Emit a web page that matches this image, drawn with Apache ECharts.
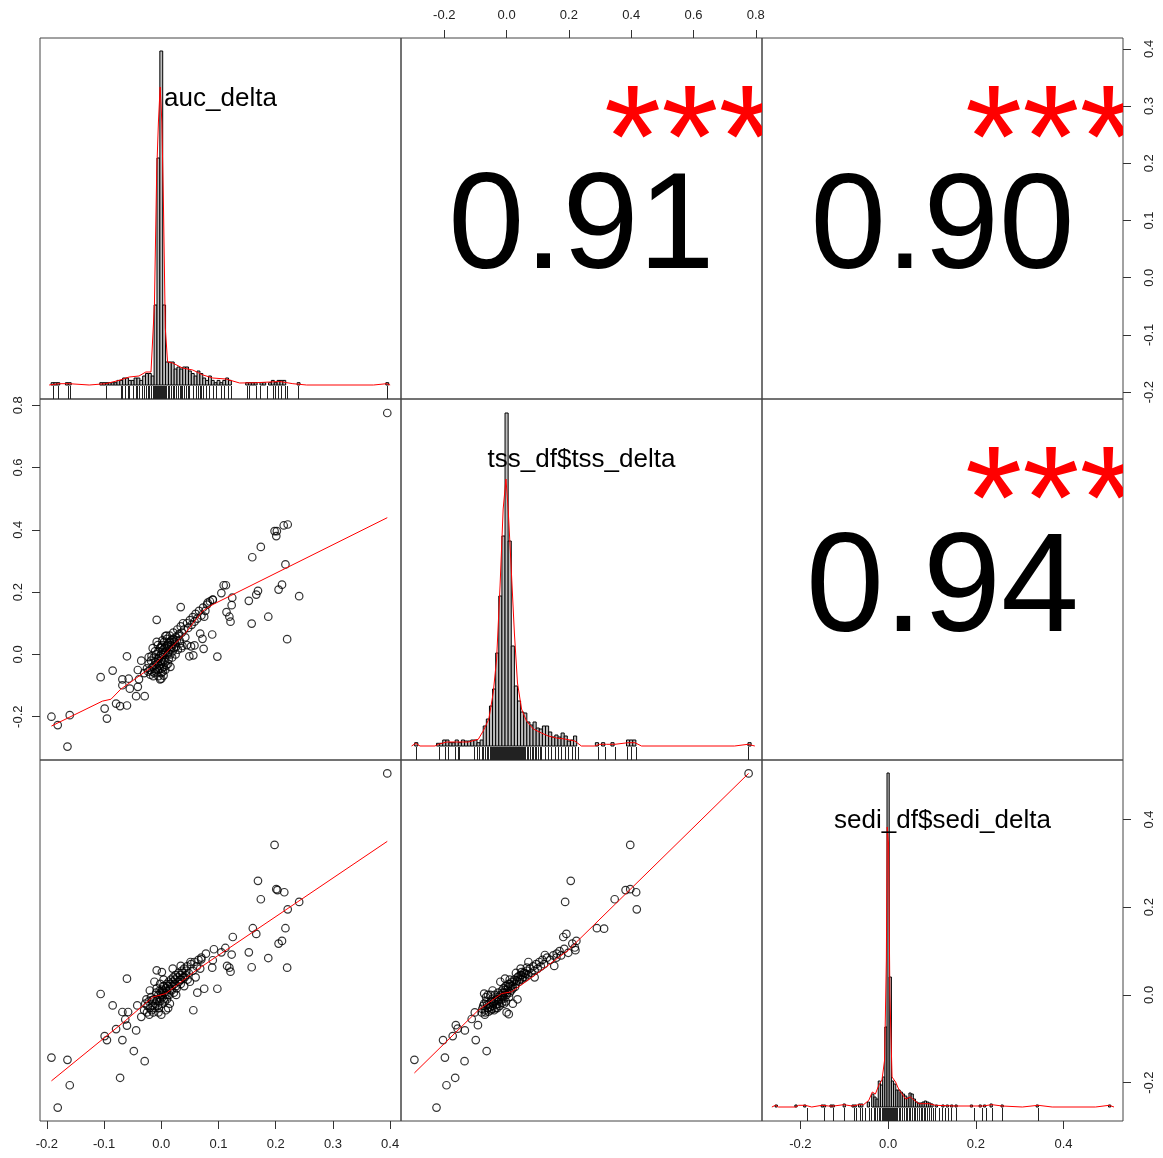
<!DOCTYPE html>
<html>
<head>
<meta charset="utf-8">
<script src="https://cdn.jsdelivr.net/npm/echarts@6/dist/echarts.min.js"></script>
<style>
html, body { margin: 0; padding: 0; background: #fff; }
#main { width: 1163px; height: 1158px; }
</style>
</head>
<body>
<div id="main"></div>
<script>
// variable names shown on the diagonal
var varNames = ['auc_delta', 'tss_df$tss_delta', 'sedi_df$sedi_delta'];

// axis domains (data range + 4%) and tick labels
var aucRange = [-0.212, 0.419];
var tssRange = [-0.339, 0.820];
var sediRange = [-0.2875, 0.5355];
var aucTicks = [-0.2, -0.1, 0.0, 0.1, 0.2, 0.3, 0.4];
var tssTicks = [-0.2, 0.0, 0.2, 0.4, 0.6, 0.8];
var sediTicks = [-0.2, 0.0, 0.2, 0.4];

// correlations (upper panels) and significance stars
var corrR = [0.91, 0.90, 0.94];
var corrStars = ['***', '***', '***'];

// histogram bins [bin centre, height] (relative density)
var aucBin = 0.005;
var aucHist = [[-0.19,2.3],[-0.185,2.3],[-0.18,2.3],[-0.165,2.3],[-0.16,2.3],[-0.105,2.3],[-0.1,2.3],[-0.095,2.3],[-0.09,2.3],[-0.085,2.3],[-0.08,2.3],
  [-0.075,4.6],[-0.07,4.6],[-0.065,7],[-0.06,7],[-0.055,4.6],[-0.05,4.6],[-0.045,7],[-0.04,7],[-0.035,4.6],[-0.03,9],[-0.025,11.5],[-0.02,11.5],[-0.015,9],
  [-0.01,80],[-0.005,227],[0,334],[0.005,80],[0.01,23],[0.015,23],[0.02,23],[0.025,16],[0.03,18],[0.035,16],[0.04,18],[0.045,18],[0.05,14],[0.055,11.5],
  [0.06,9],[0.065,14],[0.07,11.5],[0.075,7],[0.08,4.6],[0.085,9],[0.09,4.6],[0.095,2.3],[0.1,4.6],[0.105,2.3],[0.11,4.6],[0.115,7],[0.12,4.6],
  [0.15,2.3],[0.155,2.3],[0.16,2.3],[0.165,2.3],[0.175,2.3],[0.18,2.3],[0.19,2.3],[0.195,4.6],[0.2,2.3],[0.205,4.6],[0.21,4.6],[0.215,4.6],[0.24,2.3],[0.395,2.3]];
var tssBin = 0.01;
var tssHist = [[-0.29,3.3],[-0.22,2.7],[-0.21,2.7],[-0.2,6],[-0.19,6],[-0.18,3.3],[-0.17,3.3],[-0.16,6],[-0.15,3.3],[-0.14,6],[-0.13,5],[-0.12,5],[-0.11,6],[-0.1,6],
  [-0.09,3.3],[-0.08,6],[-0.07,20],[-0.06,27],[-0.05,40],[-0.04,57],[-0.03,93],[-0.02,150],[-0.01,210],[0,333],[0.01,205],[0.02,100],[0.03,60],[0.04,45],
  [0.05,34],[0.06,33],[0.07,24],[0.08,21],[0.09,24],[0.1,18],[0.11,17],[0.12,20],[0.13,20],[0.14,14],[0.15,9],[0.16,11],[0.17,9],[0.18,13],[0.19,10],
  [0.2,5],[0.21,6],[0.22,10],[0.29,3.3],[0.31,3.3],[0.34,3.3],[0.39,6],[0.4,6],[0.41,6],[0.78,3.3]];
var sediBin = 0.005;
var sediHist = [[-0.255,2],[-0.21,2],[-0.19,2],[-0.15,2],[-0.145,2],[-0.13,2],[-0.125,2],[-0.1,3],[-0.08,2],[-0.075,2],[-0.065,3],[-0.06,3],[-0.045,5],
  [-0.035,13],[-0.03,10],[-0.025,8],[-0.02,26],[-0.015,22],[-0.01,30],[-0.005,80],[0,334],[0.005,130],[0.01,26],[0.015,23],[0.02,17],[0.025,17],[0.03,15],
  [0.035,13],[0.04,11],[0.045,9],[0.05,14],[0.055,13],[0.06,8],[0.065,5],[0.07,4],[0.075,4],[0.08,5],[0.085,6],[0.09,5],[0.095,4],[0.1,3],[0.11,2],
  [0.125,2],[0.135,2],[0.145,2],[0.155,2],[0.19,2],[0.21,2],[0.22,2],[0.235,3],[0.26,2],[0.34,2],[0.505,2]];

// density curves [x, height]
var aucDens = [[-0.196,0],[-0.179,1.3],[-0.161,1.3],[-0.126,0],[-0.097,1.3],[-0.074,4.6],[-0.056,8],[-0.039,9],[-0.027,13],[-0.018,13],[-0.012,80],
  [-0.008,213],[-0.005,263],[-0.002,298],[0.001,263],[0.004,173],[0.007,57],[0.011,23],[0.02,22],[0.037,17],[0.055,15],[0.073,10],[0.09,7],[0.113,6],
  [0.137,2],[0.166,2.3],[0.207,3.5],[0.23,1.3],[0.254,0],[0.371,0],[0.394,1.3],[0.4,0]];
var tssDens = [[-0.305,0],[-0.292,2.7],[-0.278,0],[-0.23,0],[-0.219,1.7],[-0.192,4],[-0.16,4],[-0.123,4],[-0.091,6.7],[-0.075,15],[-0.057,27],[-0.043,53],
  [-0.032,87],[-0.021,160],[-0.011,237],[-0.002,267],[0.005,237],[0.014,183],[0.025,113],[0.035,63],[0.048,37],[0.064,25],[0.086,17],[0.112,13],[0.134,10],
  [0.16,8],[0.187,7],[0.219,5],[0.24,0],[0.283,0],[0.299,1.7],[0.321,1.7],[0.348,1.7],[0.39,3.3],[0.412,3.3],[0.433,0],[0.732,0],[0.775,1.7],[0.797,0]];
var sediDens = [[-0.265,0],[-0.257,1.7],[-0.25,0],[-0.212,0],[-0.204,1.7],[-0.189,1.7],[-0.174,0],[-0.151,1.7],[-0.136,1],[-0.124,1],[-0.101,2.3],[-0.082,1],
  [-0.067,2.3],[-0.056,2.3],[-0.044,6.7],[-0.036,15],[-0.029,13],[-0.021,22],[-0.014,27],[-0.008,47],[-0.004,147],[-0.002,280],[0.001,263],[0.004,113],
  [0.009,30],[0.017,25],[0.024,18],[0.032,13],[0.04,8],[0.051,10],[0.059,7],[0.07,3.3],[0.093,3.3],[0.108,1.7],[0.154,1],[0.192,1],[0.215,1],[0.237,2.3],
  [0.26,1],[0.306,0],[0.342,1.7],[0.374,0],[0.473,0],[0.504,1.7],[0.515,0]];

// rug values under each histogram
var aucRug = [-0.189,-0.18,-0.163,-0.16,-0.097,-0.071,-0.068,-0.063,-0.059,-0.056,-0.05,-0.045,-0.042,-0.039,-0.034,-0.03,-0.027,-0.024,-0.021,-0.018,
  -0.015,-0.014,-0.013,-0.012,-0.011,-0.01,-0.009,-0.008,-0.007,-0.006,-0.005,-0.004,-0.003,-0.002,-0.001,0,0.001,0.002,0.003,0.004,0.005,0.006,0.007,
  0.009,0.011,0.013,0.017,0.02,0.023,0.026,0.029,0.032,0.035,0.037,0.04,0.043,0.046,0.049,0.055,0.06,0.064,0.067,0.07,0.073,0.078,0.084,0.09,0.096,
  0.105,0.11,0.116,0.122,0.149,0.154,0.166,0.172,0.184,0.195,0.198,0.204,0.21,0.216,0.219,0.239,0.394];
var tssRug = [-0.292,-0.217,-0.198,-0.187,-0.166,-0.157,-0.153,-0.104,-0.096,-0.089,-0.08,-0.075,-0.07,-0.064,-0.059,-0.053,-0.05,-0.047,-0.044,-0.041,
  -0.038,-0.035,-0.032,-0.029,-0.026,-0.023,-0.02,-0.017,-0.014,-0.011,-0.008,-0.005,-0.002,0.001,0.004,0.007,0.01,0.013,0.016,0.019,0.022,0.025,0.028,
  0.031,0.034,0.037,0.04,0.043,0.046,0.049,0.052,0.055,0.059,0.064,0.069,0.075,0.08,0.085,0.091,0.096,0.101,0.107,0.112,0.123,0.134,0.144,0.155,0.166,
  0.176,0.187,0.198,0.209,0.219,0.228,0.294,0.315,0.347,0.385,0.401,0.417,0.775];
var sediRug = [-0.185,-0.147,-0.126,-0.101,-0.078,-0.073,-0.065,-0.059,-0.052,-0.043,-0.038,-0.033,-0.029,-0.025,-0.021,-0.018,-0.014,-0.011,-0.009,
  -0.007,-0.005,-0.003,-0.001,0,0.001,0.003,0.005,0.007,0.009,0.011,0.013,0.015,0.017,0.021,0.024,0.028,0.032,0.036,0.04,0.043,0.047,0.051,0.055,
  0.059,0.062,0.066,0.07,0.074,0.078,0.081,0.085,0.089,0.093,0.097,0.102,0.108,0.116,0.123,0.129,0.137,0.144,0.154,0.195,0.214,0.224,0.237,0.26,0.342];

// scatter points [x, y]
var aucTssPts = [[0.395,0.775],[-0.192,-0.2],[-0.181,-0.227],[-0.16,-0.195],[-0.164,-0.296],[-0.106,-0.073],[-0.085,-0.052],[-0.099,-0.174],[-0.095,-0.206],
  [-0.079,-0.158],[-0.072,-0.166],[-0.06,-0.164],[-0.06,-0.006],[-0.068,-0.08],[-0.068,-0.099],[-0.057,-0.078],[-0.055,-0.11],[-0.044,-0.134],[-0.029,-0.134],
  [-0.041,-0.104],[-0.039,-0.08],[-0.041,-0.05],[-0.008,0.111],[0.034,0.152],[0.007,0.059],[-0.022,-0.009],[0.068,0.067],[0.089,0.064],[0.072,0.05],
  [0.052,0.026],[0.058,0.029],[0.074,0.018],[0.049,-0.006],[0.056,-0.003],[0.098,-0.007],[0.037,0.027],[0.119,0.121],[0.121,0.105],[0.114,0.136],
  [0.123,0.158],[0.124,0.182],[0.158,0.099],[0.153,0.172],[0.166,0.192],[0.169,0.204],[0.187,0.121],[0.159,0.312],[0.174,0.345],[0.198,0.396],
  [0.202,0.396],[0.201,0.38],[0.214,0.414],[0.221,0.417],[0.217,0.289],[0.211,0.224],[0.205,0.208],[0.241,0.187],[0.22,0.049],[0.105,0.197],
  [0.109,0.222],[0.113,0.222],[0.09,0.176],[0.081,0.166],[0.075,0.121],
  [-0.025,-0.045],[-0.022,-0.03],[-0.02,-0.05],[-0.018,-0.02],[-0.015,-0.04],[-0.013,-0.01],[-0.012,-0.06],[-0.01,-0.025],[-0.009,0.0],[-0.008,-0.045],
  [-0.006,-0.015],[-0.005,0.01],[-0.004,-0.035],[-0.003,-0.005],[-0.002,0.02],[-0.001,-0.02],[0.0,0.0],[0.0,-0.06],[0.001,0.03],[0.002,-0.01],[0.003,0.015],
  [0.004,-0.04],[0.005,0.04],[0.006,0.005],[0.007,-0.025],[0.008,0.025],[0.01,0.05],[0.011,0.0],[0.012,0.035],[0.014,0.015],[0.015,0.06],[0.017,0.03],
  [0.018,0.045],[0.02,0.01],[0.021,0.07],[0.023,0.04],[0.025,0.055],[0.026,0.025],[0.028,0.08],[0.03,0.06],[0.032,0.045],[0.034,0.09],[0.036,0.07],
  [0.038,0.1],[0.04,0.08],[0.042,0.055],[0.045,0.1],[0.047,0.085],[0.05,0.11],[0.053,0.095],[0.055,0.12],[0.058,0.105],[0.06,0.13],[0.063,0.115],
  [0.066,0.14],[0.07,0.125],[0.073,0.15],[0.077,0.14],[0.08,0.16],[0.085,0.17],[0.09,0.175],[-0.008,0.04],[0.003,-0.055],[-0.015,0.02],[0.012,-0.03],
  [0.025,0.0],[0.035,0.02],[-0.03,-0.06],[-0.035,-0.02],[0.045,0.03],[-0.005,-0.07],[0.0,-0.078],[0.004,-0.068],[-0.002,-0.08],
  [-0.012,-0.035],[-0.01,-0.055],[-0.007,-0.03],[-0.006,-0.05],[-0.004,-0.012],[-0.003,-0.045],[-0.001,-0.03],[0.001,-0.045],[0.002,-0.025],[0.003,-0.001],
  [0.005,-0.02],[0.006,0.02],[0.007,-0.05],[0.008,0.01],[0.009,-0.035],[0.01,0.03],[0.012,0.005],[0.013,-0.015],[0.015,0.04],[0.016,0.0],[0.018,0.025],
  [0.019,-0.01],[0.021,0.05],[0.022,0.02],[0.024,0.035],[0.027,0.045],[0.029,0.015],[0.031,0.065],[0.033,0.035],[-0.016,-0.055],[-0.017,-0.005],
  [-0.019,-0.065],[-0.023,-0.055],[-0.014,-0.07],[-0.011,0.01],[0.0,0.025],[0.002,0.045],[-0.006,0.03],[0.009,0.06],[0.016,-0.04]];
var aucSediPts = [[0.395,0.505],[-0.192,-0.143],[-0.164,-0.148],[-0.16,-0.206],[-0.181,-0.257],[-0.106,0.002],[-0.085,-0.024],[-0.06,0.037],[-0.099,-0.094],
  [-0.095,-0.103],[-0.079,-0.078],[-0.068,-0.039],[-0.058,-0.039],[-0.063,-0.056],[-0.06,-0.07],[-0.068,-0.103],[-0.044,-0.081],[-0.048,-0.128],
  [-0.029,-0.151],[-0.072,-0.189],[-0.042,-0.024],[-0.008,0.056],[0.001,0.052],[0.034,0.066],[0.051,0.075],[0.056,-0.035],[0.098,0.014],[0.075,0.014],
  [0.063,0.005],[0.089,0.062],[0.07,0.081],[0.09,0.079],[0.078,0.094],[0.092,0.104],[0.105,0.097],[0.112,0.107],[0.123,0.092],[0.115,0.066],[0.119,0.062],
  [0.121,0.053],[0.125,0.132],[0.153,0.097],[0.158,0.063],[0.16,0.152],[0.166,0.139],[0.187,0.084],[0.169,0.26],[0.174,0.218],[0.198,0.342],[0.201,0.241],
  [0.203,0.239],[0.215,0.234],[0.221,0.195],[0.241,0.212],[0.217,0.152],[0.211,0.123],[0.205,0.117],[0.22,0.062],
  [-0.03,-0.035],[-0.028,-0.02],[-0.025,-0.04],[-0.022,-0.015],[-0.02,-0.03],[-0.018,-0.005],[-0.015,-0.025],[-0.013,-0.01],[-0.01,-0.02],[-0.009,0.005],
  [-0.007,-0.012],[-0.005,0.0],[-0.004,-0.03],[-0.003,0.01],[-0.002,-0.008],[0.0,0.0],[0.0,-0.045],[0.001,0.012],[0.002,-0.005],[0.003,0.02],[0.005,0.005],
  [0.006,-0.015],[0.008,0.015],[0.01,0.025],[0.011,0.0],[0.013,0.03],[0.015,0.012],[0.017,0.035],[0.019,0.02],[0.021,0.04],[0.023,0.025],[0.025,0.045],
  [0.027,0.015],[0.03,0.05],[0.032,0.035],[0.034,0.025],[0.036,0.055],[0.038,0.04],[0.04,0.06],[0.043,0.045],[0.045,0.065],[0.048,0.05],[0.05,0.03],
  [0.052,0.07],[0.055,0.055],[0.058,0.075],[0.06,0.04],[0.062,0.065],[0.065,0.08],[0.068,0.06],[0.07,0.085],[-0.012,0.03],[0.015,-0.02],[0.04,0.02],
  [-0.02,0.01],[0.02,0.06],[-0.035,-0.05],[0.008,-0.035],
  [-0.024,-0.025],[-0.021,-0.045],[-0.017,-0.035],[-0.016,-0.012],[-0.014,-0.04],[-0.011,-0.03],[-0.008,-0.01],[-0.006,-0.025],[-0.005,-0.04],
  [-0.003,-0.015],[-0.001,0.005],[0.001,-0.02],[0.002,0.008],[0.004,-0.01],[0.005,0.02],[0.007,0.0],[0.009,0.01],[0.01,-0.01],[0.012,0.02],[0.014,0.0],
  [0.016,0.025],[0.018,0.01],[0.02,0.03],[0.022,0.005],[0.024,0.035],[0.026,0.02],[0.028,0.04],[0.031,0.03],[0.033,0.045],[0.035,0.035],[0.037,0.05],
  [0.041,0.04],[0.044,0.055],[-0.002,0.025],[0.004,0.035],[-0.008,0.015],[0.012,-0.03],[0.026,0.0],[0.046,0.035],[-0.026,-0.01]];
var tssSediPts = [[0.777,0.505],[-0.296,-0.148],[-0.225,-0.257],[-0.193,-0.206],[-0.165,-0.189],[-0.198,-0.143],[-0.204,-0.103],[-0.135,-0.151],
  [-0.173,-0.094],[-0.163,-0.069],[-0.157,-0.077],[-0.134,-0.081],[-0.112,-0.055],[-0.099,-0.103],[-0.092,-0.069],[-0.064,-0.128],[-0.102,-0.04],
  [-0.072,0.003],[-0.005,0.037],[0.007,-0.044],[0.035,-0.01],[0.048,0.052],[0.065,0.062],[0.123,0.091],[0.153,0.066],[0.161,0.094],[0.182,0.132],
  [0.192,0.139],[0.188,0.212],[0.206,0.26],[0.198,0.096],[0.211,0.117],[0.224,0.123],[0.221,0.102],[0.219,0.108],[0.29,0.152],[0.313,0.151],
  [0.347,0.218],[0.382,0.239],[0.397,0.241],[0.416,0.234],[0.418,0.195],[0.397,0.342],
  [-0.08,-0.04],[-0.075,-0.025],[-0.07,-0.035],[-0.065,-0.015],[-0.06,-0.03],[-0.055,-0.02],[-0.05,-0.035],[-0.048,-0.01],[-0.045,-0.025],[-0.04,-0.015],
  [-0.038,0.0],[-0.035,-0.03],[-0.03,-0.01],[-0.027,0.005],[-0.025,-0.02],[-0.02,0.0],[-0.018,-0.012],[-0.015,0.01],[-0.012,-0.005],[-0.01,0.015],
  [-0.008,-0.02],[-0.005,0.005],[-0.003,0.02],[0.0,0.0],[0.0,-0.04],[0.003,0.012],[0.006,0.025],[0.01,0.005],[0.013,0.02],[0.017,0.03],[0.02,0.015],
  [0.025,0.035],[0.03,0.025],[0.035,0.04],[0.04,0.03],[0.045,0.045],[0.05,0.035],[0.055,0.05],[0.06,0.04],[0.065,0.055],[0.07,0.045],[0.075,0.06],
  [0.08,0.05],[0.085,0.065],[0.09,0.055],[0.095,0.07],[0.1,0.06],[0.105,0.075],[0.11,0.065],[0.115,0.08],[0.12,0.07],[0.13,0.085],[0.14,0.08],
  [0.15,0.09],[0.16,0.085],[0.17,0.1],[0.175,0.09],[0.185,0.105],[-0.06,0.0],[-0.045,0.01],[-0.07,-0.045],[0.02,-0.02],[0.03,0.05],[-0.02,0.03],
  [0.045,0.06],[0.07,0.075],[0.09,0.04],
  [-0.078,-0.032],[-0.072,-0.02],[-0.068,-0.04],[-0.062,-0.022],[-0.058,-0.038],[-0.053,-0.028],[-0.05,-0.015],[-0.046,-0.032],[-0.043,-0.02],
  [-0.04,-0.035],[-0.036,-0.012],[-0.033,-0.022],[-0.03,-0.03],[-0.028,-0.005],[-0.024,-0.012],[-0.022,-0.025],[-0.017,-0.002],[-0.014,-0.018],
  [-0.011,0.005],[-0.007,-0.008],[-0.004,0.012],[-0.002,-0.015],[0.002,0.005],[0.005,0.018],[0.008,-0.005],[0.011,0.025],[0.015,0.01],[0.019,0.022],
  [0.023,0.03],[0.027,0.018],[0.033,0.032],[0.038,0.042],[0.043,0.035],[0.048,0.045],[0.053,0.04],[0.058,0.05],[0.063,0.048],[-0.052,0.0],
  [-0.066,-0.005],[0.01,0.035]];

// smoothed (loess) lines [x, y]
var aucTssFit = [[-0.192,-0.23],[-0.103,-0.15],[-0.088,-0.144],[-0.071,-0.112],[-0.015,-0.038],[0.02,0.027],[0.043,0.07],[0.072,0.139],[0.09,0.16],[0.395,0.439]];
var aucSediFit = [[-0.192,-0.196],[-0.062,-0.058],[-0.015,-0.005],[0.008,0.003],[0.061,0.056],[0.395,0.35]];
var tssSediFit = [[-0.296,-0.178],[-0.091,-0.035],[-0.016,0.003],[0.016,0.007],[0.112,0.056],[0.198,0.102],[0.777,0.505]];

var chart = echarts.init(document.getElementById('main'));
var FONT = '"Liberation Sans", Arial, Helvetica, sans-serif';
var PL = [40, 401, 762], PT = [38, 399, 760], PS = 361;
var histRange = [-14, 347];
var STAR_SIZE = 147;

var ranges = [aucRange, tssRange, sediRange];
var hists = [aucHist, tssHist, sediHist];
var bins = [aucBin, tssBin, sediBin];
var dens = [aucDens, tssDens, sediDens];
var rugs = [aucRug, tssRug, sediRug];
var lower = { '1,0': [aucTssPts, aucTssFit], '2,0': [aucSediPts, aucSediFit], '2,1': [tssSediPts, tssSediFit] };
var upper = { '0,1': 0, '0,2': 1, '1,2': 2 };

function fmt(v) { return v.toFixed(1); }

function axis(gi, range, ext) {
    var a = {
        type: 'value', gridIndex: gi, min: range[0], max: range[1], show: false,
        axisLine: { show: false, onZero: false }, axisTick: { show: false }, axisLabel: { show: false }, splitLine: { show: false }
    };
    return Object.assign(a, ext || {});
}

function labelled(ticks, pos, rotate, margin) {
    return {
        show: true, position: pos,
        axisLine: { show: false, onZero: false },
        axisTick: { show: true, inside: false, length: 8, customValues: ticks, lineStyle: { color: '#333', width: 1 } },
        axisLabel: { show: true, customValues: ticks, formatter: fmt, fontFamily: FONT, fontSize: 13, color: '#222', margin: margin, rotate: rotate }
    };
}

var grids = [], xAxes = [], yAxes = [], series = [], graphics = [];

for (var r = 0; r < 3; r++) {
    for (var c = 0; c < 3; c++) {
        var gi = r * 3 + c;
        grids.push({
            left: PL[c], top: PT[r], width: PS, height: PS,
            show: true, borderColor: '#444', borderWidth: 1, backgroundColor: 'transparent',
            outerBoundsMode: 'none'
        });
        if (r === c) {
            xAxes.push(axis(gi, ranges[c]));
            yAxes.push(axis(gi, histRange));
        } else if (r > c) {
            xAxes.push(axis(gi, ranges[c]));
            yAxes.push(axis(gi, ranges[r]));
        } else {
            xAxes.push(axis(gi, [0, 1]));
            yAxes.push(axis(gi, [0, 1]));
        }
    }
}

// outer axes, as pairs() puts them
Object.assign(yAxes[3], labelled(tssTicks, 'left', 90, 15));
Object.assign(xAxes[6], labelled(aucTicks, 'bottom', 0, 17));
Object.assign(xAxes[8], labelled(sediTicks, 'bottom', 0, 17));
xAxes.push(axis(1, tssRange, labelled(tssTicks, 'top', 0, 16)));
yAxes.push(axis(2, aucRange, labelled(aucTicks, 'right', 90, 20)));
yAxes.push(axis(8, sediRange, labelled(sediTicks, 'right', 90, 20)));

// diagonal: histogram, density, rug, name
[0, 1, 2].forEach(function (i) {
    var gi = i * 4;
    var bw = bins[i];
    series.push({
        type: 'custom', xAxisIndex: gi, yAxisIndex: gi, z: 2, clip: true,
        data: hists[i],
        renderItem: function (params, api) {
            var x = api.value(0), h = api.value(1);
            var p0 = api.coord([x - bw / 2, h]);
            var p1 = api.coord([x + bw / 2, 0]);
            return {
                type: 'rect',
                shape: { x: p0[0], y: p0[1], width: p1[0] - p0[0], height: p1[1] - p0[1] },
                style: { fill: '#bebebe', stroke: '#000', lineWidth: 1 }
            };
        }
    });
    series.push({
        type: 'line', xAxisIndex: gi, yAxisIndex: gi, z: 3,
        data: dens[i], showSymbol: false, symbol: 'none', silent: true,
        lineStyle: { color: '#ff0000', width: 1 }
    });
    series.push({
        type: 'custom', xAxisIndex: gi, yAxisIndex: gi, z: 2,
        data: rugs[i].map(function (v) { return [v, 0]; }),
        renderItem: function (params, api) {
            var p = api.coord([api.value(0), 0]);
            var bottom = params.coordSys.y + params.coordSys.height;
            var x = Math.round(p[0]) + 0.5;
            return {
                type: 'line',
                shape: { x1: x, y1: bottom, x2: x, y2: bottom - 13 },
                style: { stroke: '#222', lineWidth: 1 }
            };
        }
    });
    graphics.push({
        type: 'text', x: PL[i] + PS / 2, y: PT[i] + 61, z: 10,
        style: { text: varNames[i], fontFamily: FONT, fontSize: 26, fill: '#000', align: 'center', verticalAlign: 'middle' }
    });
});

// lower: scatter + smoother
Object.keys(lower).forEach(function (k) {
    var rc = k.split(',').map(Number);
    var gi = rc[0] * 3 + rc[1];
    series.push({
        type: 'scatter', xAxisIndex: gi, yAxisIndex: gi, z: 2,
        data: lower[k][0], symbol: 'circle', symbolSize: 7.5,
        itemStyle: { color: 'rgba(0,0,0,0)', borderColor: '#000', borderWidth: 1.2 }
    });
    series.push({
        type: 'line', xAxisIndex: gi, yAxisIndex: gi, z: 3,
        data: lower[k][1], showSymbol: false, symbol: 'none', silent: true,
        lineStyle: { color: '#ff0000', width: 1 }
    });
});

// upper: correlation and stars
Object.keys(upper).forEach(function (k) {
    var rc = k.split(',').map(Number);
    var gi = rc[0] * 3 + rc[1];
    var j = upper[k];
    series.push({
        type: 'custom', xAxisIndex: gi, yAxisIndex: gi, z: 2, clip: true,
        data: [[0.5, 0.5]],
        renderItem: function (params, api) {
            var c = api.coord([0.5, 0.5]);
            var s = api.coord([0.8, 0.8]);
            var rv = corrR[j];
            var numSize = STAR_SIZE * (Math.abs(rv) + 0.3) / 1.3;
            return {
                type: 'group',
                children: [{
                    type: 'text', x: c[0], y: c[1] + numSize * 0.089,
                    style: { text: rv.toFixed(2), fontFamily: FONT, fontSize: numSize, fill: '#000', align: 'center', verticalAlign: 'middle' }
                }, {
                    type: 'text', x: s[0], y: s[1] + STAR_SIZE * 0.25,
                    style: { text: corrStars[j], fontFamily: FONT, fontSize: STAR_SIZE, fill: '#ff0000', align: 'center', verticalAlign: 'middle' }
                }]
            };
        }
    });
});

chart.setOption({
    backgroundColor: '#fff',
    animation: false,
    grid: grids,
    xAxis: xAxes,
    yAxis: yAxes,
    series: series,
    graphic: graphics
});
</script>
</body>
</html>
